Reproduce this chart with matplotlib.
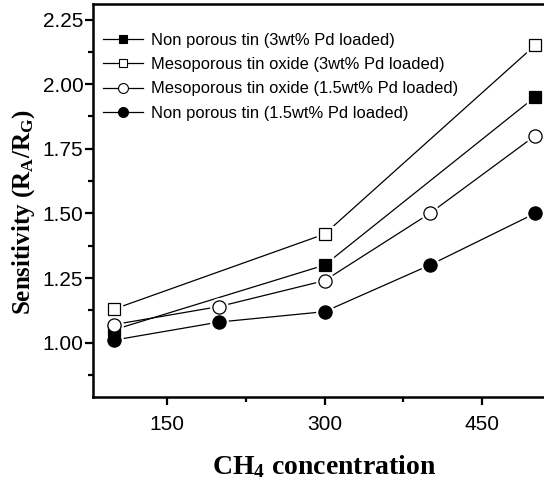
import matplotlib
matplotlib.use("Agg")
import matplotlib.pyplot as plt
from matplotlib.lines import Line2D
from matplotlib.ticker import MultipleLocator

# CH4 concentration and sensitivity values
conc_3pts = [100, 300, 500]
conc_5pts = [100, 200, 300, 400, 500]

nonporous_3wt = [1.05, 1.30, 1.95]
meso_3wt = [1.13, 1.42, 2.15]
meso_15wt = [1.07, 1.14, 1.24, 1.50, 1.80]
nonporous_15wt = [1.01, 1.08, 1.12, 1.30, 1.50]

labels = [
    "Non porous tin (3wt% Pd loaded)",
    "Mesoporous tin oxide (3wt% Pd loaded)",
    "Mesoporous tin oxide (1.5wt% Pd loaded)",
    "Non porous tin (1.5wt% Pd loaded)",
]

series = [
    (conc_3pts, nonporous_3wt, "s", "black", 8.5),
    (conc_3pts, meso_3wt, "s", "white", 8.5),
    (conc_5pts, meso_15wt, "o", "white", 9.5),
    (conc_5pts, nonporous_15wt, "o", "black", 9.5),
]

plt.rcParams["font.family"] = ["Liberation Sans", "DejaVu Sans"]
plt.rcParams["mathtext.fontset"] = "custom"
plt.rcParams["mathtext.rm"] = "Liberation Serif:bold"
plt.rcParams["mathtext.it"] = "Liberation Serif:bold"
plt.rcParams["mathtext.bf"] = "Liberation Serif:bold"

fig = plt.figure(figsize=(5.44, 4.87), dpi=100)
ax = fig.add_axes([93 / 544, 90 / 487, 463 / 544, 393 / 487])

handles = []
for (x, y, marker, face, size), label in zip(series, labels):
    ax.plot(x, y, color="black", linewidth=0.9, zorder=2)
    # white halo so the connecting lines stop short of the markers
    ax.plot(x, y, linestyle="none", marker=marker, markersize=size + 3,
            markerfacecolor="white", markeredgecolor="white", zorder=3)
    ax.plot(x, y, linestyle="none", marker=marker, markersize=size,
            markerfacecolor=face, markeredgecolor="black",
            markeredgewidth=0.9, zorder=4)
    handles.append(Line2D([], [], color="black", linewidth=0.9, marker=marker,
                          markersize=size * 0.75, markerfacecolor=face,
                          markeredgecolor="black", markeredgewidth=0.8))

ax.set_xlim(80, 520)
ax.set_ylim(0.79, 2.31)
ax.xaxis.set_minor_locator(MultipleLocator(75))
ax.yaxis.set_minor_locator(MultipleLocator(0.125))
ax.set_yticks([1.00, 1.25, 1.50, 1.75, 2.00, 2.25])
ax.set_xticks([150, 300, 450])
ax.yaxis.set_major_formatter(plt.FormatStrFormatter("%.2f"))

ax.tick_params(which="major", direction="out", length=6, width=1.6,
               labelsize=15, pad=1)
ax.tick_params(which="minor", direction="out", length=3.5, width=1.6)
ax.tick_params(axis="x", which="major", pad=7)
for spine in ax.spines.values():
    spine.set_linewidth(1.8)

ax.set_ylabel("Sensitivity (R$_A$/R$_G$)", fontsize=18, fontweight="bold",
              family="Liberation Serif")
ax.yaxis.set_label_coords(-0.122, 0.47)
ax.set_xlabel("CH$_4$ concentration", fontsize=20, fontweight="bold",
              family="Liberation Serif", labelpad=14)

ax.legend(handles, labels, loc="upper left", bbox_to_anchor=(0.0, 0.952),
          frameon=False, fontsize=11.9, handlelength=2.4, handletextpad=0.5,
          labelspacing=0.56, borderaxespad=0.2)

fig.savefig("out.png", dpi=100)
